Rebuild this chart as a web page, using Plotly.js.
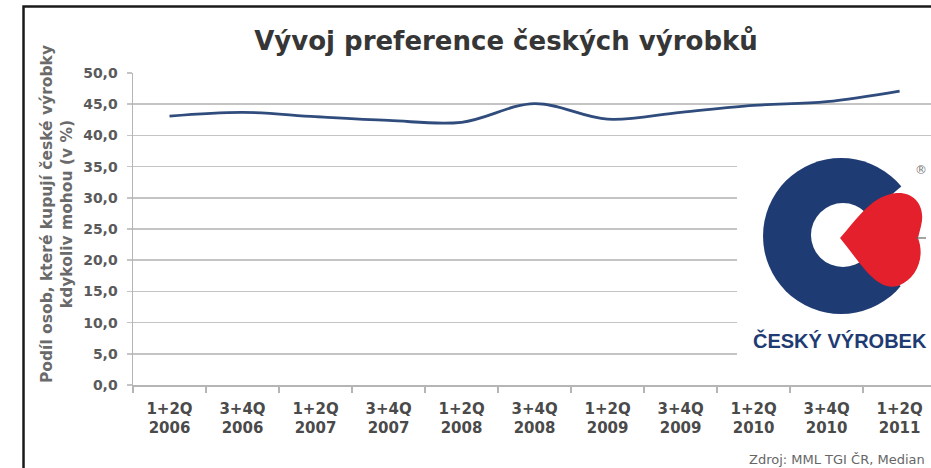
<!DOCTYPE html>
<html>
<head>
<meta charset="utf-8">
<script src="https://cdn.plot.ly/plotly-3.0.1.min.js"></script>
<style>html,body{margin:0;padding:0;background:#fff;}#chart{width:931px;height:468px;}</style>
</head>
<body>
<div id="chart"></div>
<script>
var categories = ["1+2Q<br>2006","3+4Q<br>2006","1+2Q<br>2007","3+4Q<br>2007","1+2Q<br>2008","3+4Q<br>2008","1+2Q<br>2009","3+4Q<br>2009","1+2Q<br>2010","3+4Q<br>2010","1+2Q<br>2011"];
var share = [43.1, 43.7, 43.0, 42.4, 42.1, 45.1, 42.6, 43.7, 44.8, 45.4, 47.1];
var yTicks = [0,5,10,15,20,25,30,35,40,45,50];
var titleText = "Vývoj preference českých výrobků";
var yTitle = "Podíl osob, které kupují české výrobky<br>kdykoliv mohou (v %)";
var sourceText = "Zdroj: MML TGI ČR, Median";
var logoText = "ČESKÝ VÝROBEK";

var W = 931, H = 468, ML = 133, MR = 0, MT = 73, MB = 83;
var PW = W - ML - MR, PH = H - MT - MB;
function px(x){ return ((x - ML) / PW).toFixed(4); }
function py(y){ return ((MT + PH - y) / PH).toFixed(4); }
function P(x,y){ return px(x) + "," + py(y); }

var navy = "#1f3b73", red = "#e3202b";
var shapes = [
  {type:"rect", xref:"paper", yref:"paper", x0:px(737), x1:px(940), y0:py(362), y1:py(140), fillcolor:"#ffffff", line:{width:0}, layer:"above"},
  {type:"circle", xref:"paper", yref:"paper", x0:px(763), x1:px(919), y0:py(314), y1:py(158), fillcolor:navy, line:{width:0}},
  {type:"circle", xref:"paper", yref:"paper", x0:px(811), x1:px(875), y0:py(267), y1:py(203), fillcolor:"#ffffff", line:{width:0}},
  {type:"path", xref:"paper", yref:"paper", path:"M"+P(843,236)+" L"+P(935,158)+" L"+P(935,316)+" Z", fillcolor:"#ffffff", line:{width:0}},
  {type:"path", xref:"paper", yref:"paper",
   path:"M"+P(840,238)+" C"+P(858,218)+" "+P(872,195)+" "+P(897,193)+" C"+P(915,192)+" "+P(926,207)+" "+P(921,226)+" L"+P(918,238)+" C"+P(925,256)+" "+P(918,278)+" "+P(898,286)+" C"+P(876,292)+" "+P(860,262)+" "+P(840,238)+" Z",
   fillcolor:red, line:{width:0}},
  {type:"line", xref:"paper", yref:"paper", x0:px(916), x1:px(926), y0:py(238), y1:py(238), line:{color:"#666", width:1.2}},
  {type:"rect", xref:"paper", yref:"paper", x0:px(23.5), x1:px(945), y0:py(480), y1:py(6.5), line:{color:"#1a1a1a", width:2.5}, fillcolor:"rgba(0,0,0,0)"}
];

var trace = {
  x: categories, y: share, type: "scatter", mode: "lines",
  line: {color: "#2f4c7d", width: 2.8, shape: "spline", smoothing: 1},
  hoverinfo: "skip"
};

var layout = {
  width: W, height: H,
  margin: {l: ML, r: MR, t: MT, b: MB, pad: 0},
  paper_bgcolor: "#ffffff", plot_bgcolor: "#ffffff",
  separators: ", ",
  showlegend: false,
  title: {text: titleText, x: 506/W, xanchor: "center", y: 1 - 41/H, yanchor: "middle",
          font: {family: "DejaVu Sans, Verdana", size: 26, color: "#363636", weight: "bold"}},
  xaxis: {
    type: "category", range: [-0.5, 10.43], fixedrange: true,
    showgrid: false, zeroline: false,
    showline: true, linecolor: "#b5b5b5", linewidth: 1.5,
    ticks: "outside", tickson: "boundaries", ticklen: 6, tickcolor: "#b5b5b5", tickwidth: 1.2,
    ticklabelstandoff: 9,
    tickfont: {family: "DejaVu Sans, Verdana", size: 15, color: "#4a4a4a", weight: "bold"}
  },
  yaxis: {
    range: [0, 50], tickvals: yTicks, tickformat: ".1f", fixedrange: true,
    showgrid: true, gridcolor: "#c4c4c4", gridwidth: 1.5,
    zeroline: false, showline: true, linecolor: "#b5b5b5", linewidth: 1.5,
    ticks: "outside", ticklen: 5, tickcolor: "#c4c4c4", tickwidth: 1.5,
    ticklabelstandoff: 6,
    tickfont: {family: "DejaVu Sans, Verdana", size: 14, color: "#5a5a5a", weight: "bold"}
  },
  shapes: shapes,
  annotations: [
    {text: yTitle, xref: "paper", yref: "paper", x: px(57), y: py(214), xanchor: "center", yanchor: "middle",
     textangle: -90, showarrow: false, font: {family: "DejaVu Sans, Verdana", size: 15.5, color: "#6a6a6a", weight: "bold"}},
    {text: logoText, xref: "paper", yref: "paper", x: px(840), y: py(340), xanchor: "center", yanchor: "middle",
     showarrow: false, font: {family: "Liberation Sans Narrow, Liberation Sans, Arial", size: 20, color: navy, weight: "bold"}},
    {text: "®", xref: "paper", yref: "paper", x: px(921), y: py(170), xanchor: "center", yanchor: "middle",
     showarrow: false, font: {family: "DejaVu Sans", size: 12, color: "#777"}},
    {text: sourceText, xref: "paper", yref: "paper", x: px(927), y: py(459), xanchor: "right", yanchor: "middle",
     showarrow: false, font: {family: "DejaVu Sans, Verdana", size: 13, color: "#666"}}
  ]
};

Plotly.newPlot("chart", [trace], layout, {displayModeBar: false, staticPlot: true});
</script>
</body>
</html>
